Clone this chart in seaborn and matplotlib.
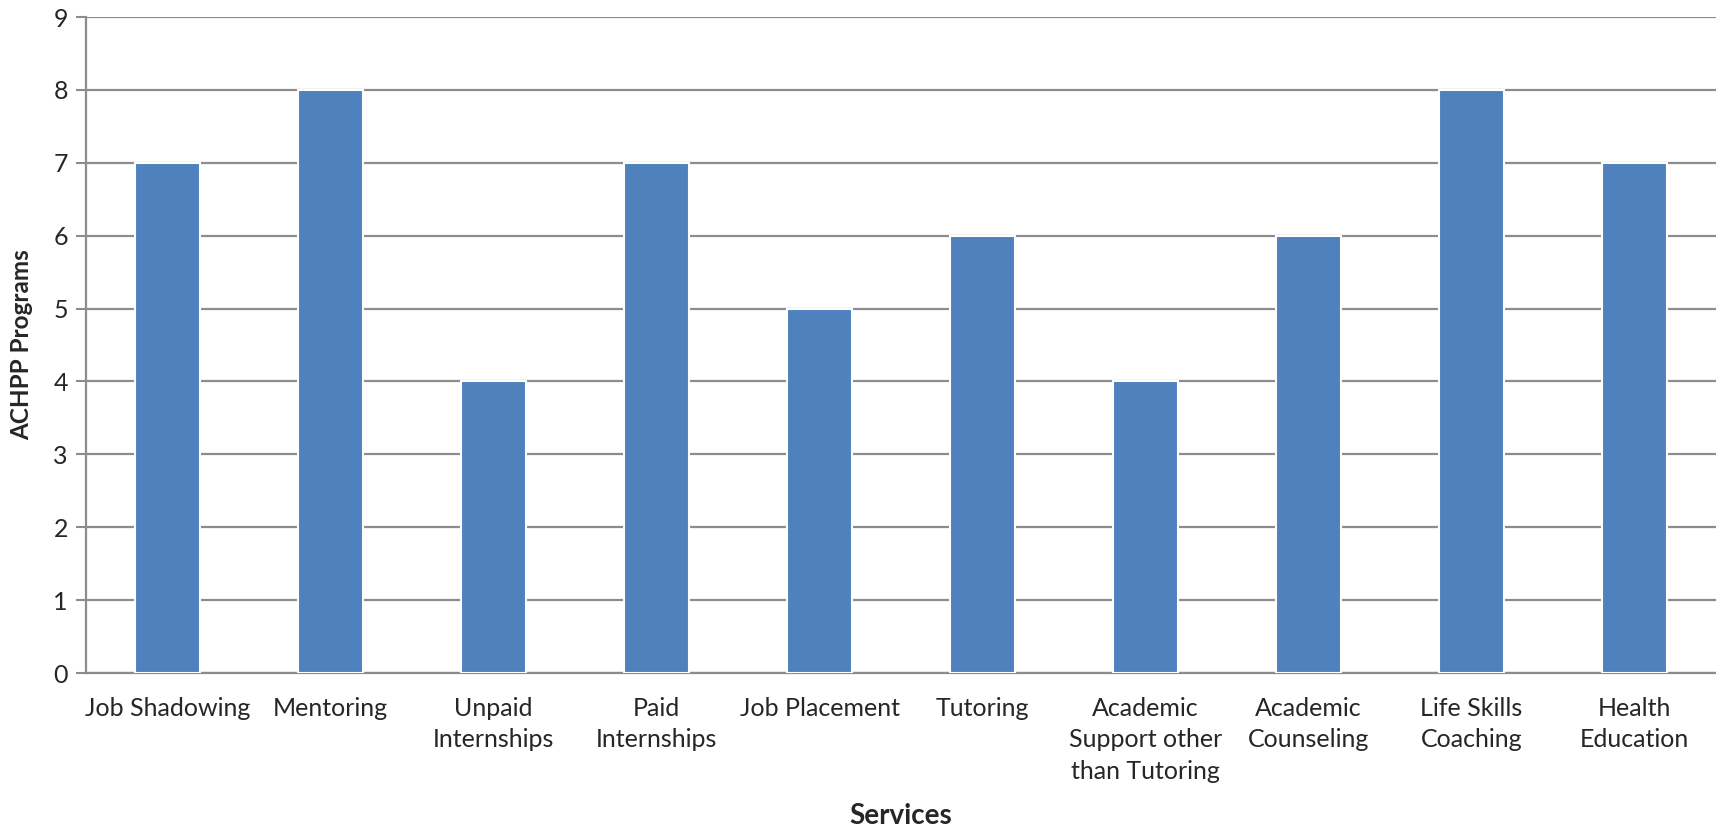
import matplotlib
matplotlib.use("Agg")
import matplotlib.pyplot as plt
import seaborn as sns
import pandas as pd

categories = ["Job Shadowing", "Mentoring", "Unpaid\nInternships", "Paid\nInternships",
              "Job Placement", "Tutoring", "Academic\nSupport other\nthan Tutoring",
              "Academic\nCounseling", "Life Skills\nCoaching", "Health\nEducation"]
values = [7, 8, 4, 7, 5, 6, 4, 6, 8, 7]
y_ticks = [0, 1, 2, 3, 4, 5, 6, 7, 8, 9]

sns.set_style("white")
plt.rcParams['font.family'] = ['Lato', 'DejaVu Sans']

W, H = 1716, 830
fig = plt.figure(figsize=(W / 100, H / 100), dpi=100)
ax = fig.add_axes([86 / W, (H - 673) / H, (W - 86) / W, (673 - 17) / H])

df = pd.DataFrame({"Service": categories, "Programs": values})
grid_c = "#8c8c8c"
ax.set_axisbelow(True)
for t in y_ticks:
    ax.axhline(t, color=grid_c, lw=1.6, zorder=0)

sns.barplot(data=df, x="Service", y="Programs", color="#4F81BD", width=0.4,
            saturation=1, edgecolor="white", linewidth=1.5, ax=ax, zorder=3)

ax.set_ylim(0, 9)
ax.set_xlim(-0.5, len(categories) - 0.5)
ax.set_yticks(y_ticks)
ax.set_yticklabels([str(t) for t in y_ticks], fontsize=18)
ax.tick_params(axis="y", length=7, width=1.5, color=grid_c, pad=6, direction="out", left=True)
ax.tick_params(axis="x", length=0, pad=17, labelsize=18)
for lab in ax.get_xticklabels():
    lab.set_linespacing(1.45)

for s in ["top", "right"]:
    ax.spines[s].set_visible(False)
ax.spines["left"].set_color(grid_c)
ax.spines["left"].set_linewidth(1.6)
ax.spines["bottom"].set_color(grid_c)
ax.spines["bottom"].set_linewidth(1.6)

ax.set_xlabel("")
ax.set_ylabel("ACHPP Programs", fontsize=17.5, fontweight="bold")
ax.yaxis.set_label_coords(-(86 - 33) / (W - 86), 0.5)
fig.text(901 / W, 1 - 816 / H, "Services", fontsize=20, fontweight="bold",
         ha="center", va="center")

fig.savefig("out.png", dpi=100)
